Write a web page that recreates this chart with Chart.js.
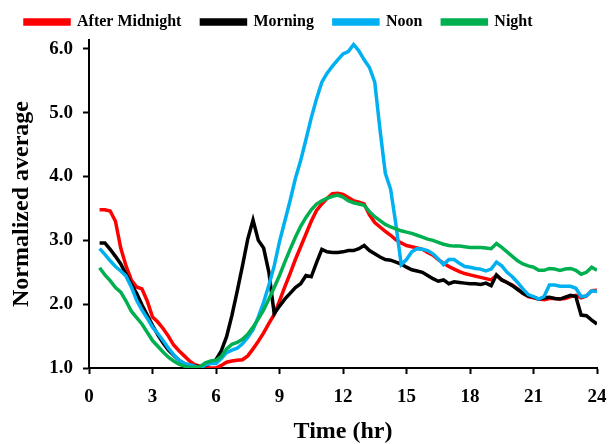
<!DOCTYPE html>
<html lang="en">
  <head>
    <meta charset="utf-8">
    <title>Normalized average by time</title>
    <script src="https://cdn.jsdelivr.net/npm/chart.js@4/dist/chart.umd.min.js"></script>
    <style>
      html, body { margin: 0; padding: 0; background: #fff; }
      #wrap { width: 611px; height: 444px; }
    </style>
  </head>
  <body>
    <div id="wrap"><canvas id="chart" width="611" height="444"></canvas></div>

    <script type="text/javascript">

    // hours, every quarter hour from 0:30 to 24:00
    var hours = []
    for (var i = 0; i < 95; i++) hours.push(0.5 + i * 0.25)

    var seriesNames = ["After Midnight", "Morning", "Noon", "Night"]
    var seriesColors = ["#FF0000", "#000000", "#00B0F0", "#00B050"]

    var afterMidnight = [
      3.48, 3.48, 3.46, 3.30, 2.88, 2.60, 2.38, 2.27, 2.24, 2.05,
      1.80, 1.72, 1.62, 1.50, 1.36, 1.27, 1.19, 1.11, 1.05, 1.03,
      1.01, 1.00, 1.00, 1.04, 1.09, 1.11, 1.12, 1.13, 1.19, 1.30,
      1.42, 1.55, 1.70, 1.84, 2.05, 2.27, 2.48, 2.70, 2.90, 3.10,
      3.30, 3.47, 3.57, 3.66, 3.73, 3.74, 3.72, 3.67, 3.62, 3.60,
      3.57, 3.40, 3.28, 3.21, 3.14, 3.08, 3.01, 2.96, 2.92, 2.90,
      2.88, 2.86, 2.81, 2.77, 2.70, 2.64, 2.59, 2.55, 2.51, 2.48,
      2.46, 2.44, 2.42, 2.40, 2.38, 2.45, 2.38, 2.34, 2.30, 2.24,
      2.17, 2.12, 2.10, 2.08, 2.07, 2.09, 2.09, 2.08, 2.09, 2.12,
      2.14, 2.10, 2.13, 2.21, 2.22
    ]

    var morning = [
      2.96, 2.96, 2.86, 2.75, 2.63, 2.47, 2.31, 2.17, 1.99, 1.83,
      1.67, 1.52, 1.39, 1.28, 1.20, 1.12, 1.07, 1.04, 1.03, 1.02,
      1.04, 1.08, 1.13, 1.27, 1.49, 1.82, 2.20, 2.60, 3.02, 3.32,
      3.00, 2.88, 2.50, 1.85, 1.97, 2.08, 2.17, 2.26, 2.32, 2.45,
      2.43, 2.65, 2.86, 2.82, 2.81, 2.81, 2.82, 2.84, 2.84, 2.87,
      2.92, 2.84, 2.79, 2.74, 2.70, 2.69, 2.66, 2.63, 2.58, 2.54,
      2.52, 2.50, 2.45, 2.40, 2.36, 2.38, 2.32, 2.35, 2.34, 2.33,
      2.32, 2.32, 2.31, 2.33, 2.29, 2.46, 2.38, 2.34, 2.29, 2.23,
      2.17, 2.13, 2.11, 2.08, 2.10, 2.11, 2.09, 2.08, 2.11, 2.14,
      2.12, 1.83, 1.82, 1.75, 1.69
    ]

    var noon = [
      2.87, 2.78, 2.68, 2.59, 2.52, 2.44, 2.27, 2.06, 1.91, 1.78,
      1.64, 1.54, 1.43, 1.31, 1.21, 1.12, 1.07, 1.05, 1.03, 0.99,
      1.05, 1.07, 1.07, 1.15, 1.24, 1.28, 1.31, 1.38, 1.48, 1.60,
      1.80, 2.03, 2.30, 2.60, 2.98, 3.30, 3.62, 3.97, 4.25, 4.58,
      4.92, 5.22, 5.48, 5.62, 5.73, 5.83, 5.92, 5.96, 6.07, 5.97,
      5.83, 5.71, 5.48, 4.73, 4.05, 3.80, 3.25, 2.62, 2.70, 2.82,
      2.87, 2.86, 2.84, 2.79, 2.71, 2.62, 2.70, 2.70, 2.64, 2.59,
      2.58, 2.56, 2.55, 2.52, 2.55, 2.66, 2.60, 2.50, 2.43, 2.34,
      2.24, 2.15, 2.12, 2.08, 2.12, 2.30, 2.30, 2.28, 2.28, 2.28,
      2.25, 2.12, 2.13, 2.21, 2.20
    ]

    var night = [
      2.57, 2.46, 2.37, 2.26, 2.19, 2.05, 1.89, 1.79, 1.69, 1.56,
      1.43, 1.34, 1.25, 1.17, 1.11, 1.06, 1.03, 1.01, 1.01, 1.02,
      1.08, 1.11, 1.12, 1.18, 1.30, 1.37, 1.40, 1.45, 1.53, 1.64,
      1.77, 1.91, 2.08, 2.26, 2.45, 2.66, 2.86, 3.05, 3.22, 3.36,
      3.48, 3.57, 3.62, 3.66, 3.69, 3.71, 3.68, 3.62, 3.59, 3.57,
      3.55, 3.45, 3.37, 3.31, 3.25, 3.21, 3.18, 3.15, 3.13, 3.11,
      3.08, 3.05, 3.02, 3.00, 2.97, 2.94, 2.92, 2.91, 2.91, 2.90,
      2.89, 2.89, 2.89, 2.88, 2.87, 2.95, 2.89, 2.82, 2.75, 2.68,
      2.63, 2.60, 2.58, 2.53, 2.53, 2.56, 2.55, 2.53, 2.55, 2.56,
      2.53, 2.47, 2.50, 2.58, 2.53
    ]

    var xTicks = [0, 3, 6, 9, 12, 15, 18, 21, 24]
    var yTicks = [1, 2, 3, 4, 5, 6]

    var allSeries = [afterMidnight, morning, noon, night]
    var serif = "'Liberation Serif', 'Times New Roman', serif"

    function toPoints(values) {
      return values.map(function (v, i) { return { x: hours[i], y: v } })
    }

    var datasets = allSeries.map(function (values, k) {
      return {
        label: seriesNames[k],
        data: toPoints(values),
        borderColor: seriesColors[k],
        backgroundColor: seriesColors[k],
        borderWidth: 3.5,
        pointRadius: 0,
        tension: 0,
        // later series sit on top, like the original
        order: allSeries.length - k
      }
    })

    var ctx = document.getElementById('chart').getContext('2d');
    var chart = new Chart(ctx, {
        type: 'line',
        data: { datasets: datasets },
        options: {
          responsive: false,
          animation: false,
          events: [],
          layout: { padding: { left: 5, right: 0, top: -6, bottom: 0 } },
          plugins: {
            tooltip: { enabled: false },
            legend: {
              position: 'top',
              align: 'start',
              labels: {
                color: '#000',
                boxWidth: 44,
                boxHeight: 4,
                padding: 20,
                font: { family: serif, size: 16, weight: 'bold' },
                sort: function (a, b) { return a.datasetIndex - b.datasetIndex }
              }
            }
          },
          scales: {
            x: {
              type: 'linear',
              min: 0,
              max: 24,
              afterBuildTicks: function (s) {
                s.ticks = xTicks.map(function (v) { return { value: v } })
              },
              afterFit: function (s) {
                s.height = 76
                s.paddingRight = 14
              },
              border: { display: true, color: '#000', width: 2 },
              grid: { drawOnChartArea: false, drawTicks: true, tickLength: 6, tickColor: '#000', tickWidth: 2 },
              ticks: {
                color: '#000',
                padding: 12,
                maxRotation: 0,
                font: { family: serif, size: 19, weight: 'bold' }
              },
              title: {
                display: true,
                text: 'Time (hr)',
                color: '#000',
                padding: { top: 0, bottom: 0 },
                font: { family: serif, size: 24, weight: 'bold', lineHeight: 1 }
              }
            },
            y: {
              min: 1,
              max: 6.14,
              afterBuildTicks: function (s) {
                s.ticks = yTicks.map(function (v) { return { value: v } })
              },
              afterFit: function (s) { s.width = 84 },
              border: { display: true, color: '#000', width: 2 },
              grid: { drawOnChartArea: false, drawTicks: true, tickLength: 6, tickColor: '#000', tickWidth: 2 },
              ticks: {
                color: '#000',
                padding: 10,
                font: { family: serif, size: 19, weight: 'bold' },
                callback: function (v) { return Number(v).toFixed(1) }
              },
              title: {
                display: true,
                text: 'Normalized average',
                color: '#000',
                padding: { top: 5, bottom: 0 },
                font: { family: serif, size: 24, weight: 'bold', lineHeight: 1 }
              }
            }
          }
        }
    });
    </script>
  </body>
</html>
